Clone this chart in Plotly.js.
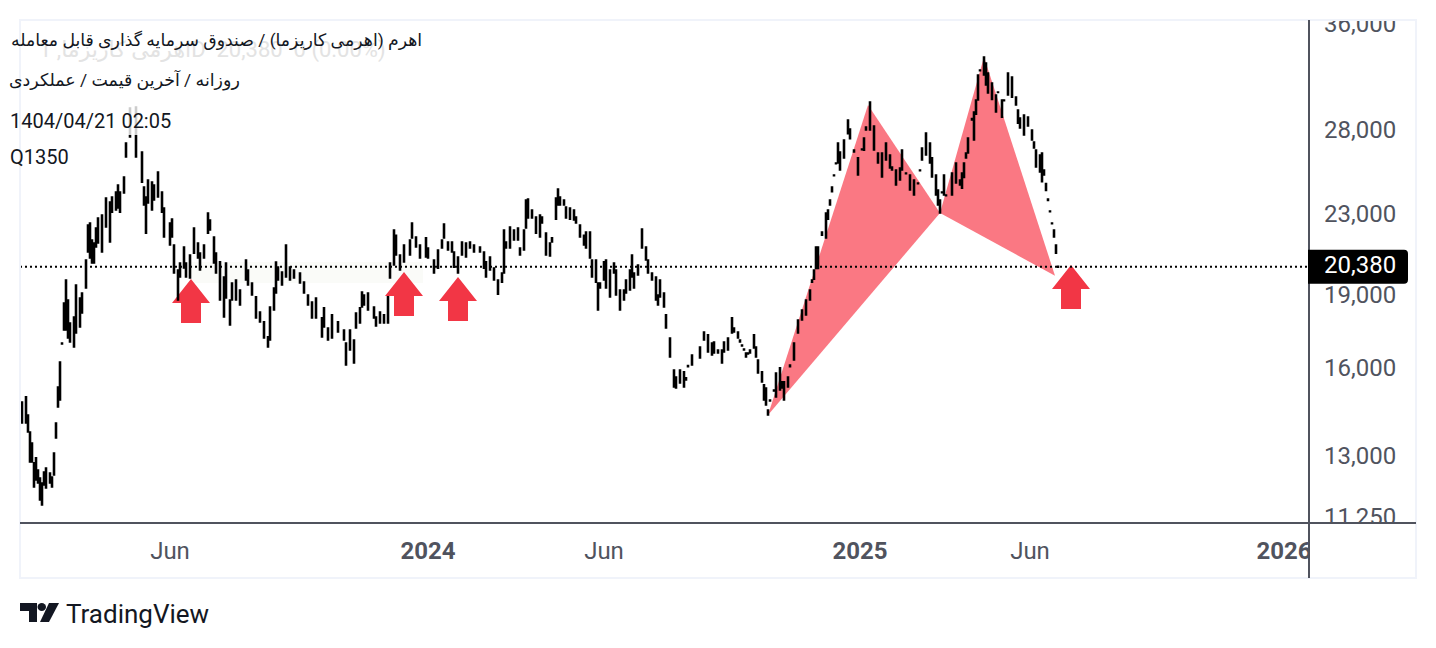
<!DOCTYPE html>
<html>
<head>
<meta charset="utf-8">
<script src="https://cdn.plot.ly/plotly-3.0.1.min.js"></script>
<style>html,body{margin:0;padding:0;background:#fff}#chart{width:1436px;height:648px}</style>
</head>
<body>
<div id="chart"></div>
<script>
// Trading session number counted from the left edge of the chart
const session = [
1,3,4,5,6,7,8,9,10,11,12,13,15,16,17,18,19,20,21,22,23,24,25,27,28,30,31,33,34,35,36,37,38,39,41,43,45,46,48,49,50,52,53,55,58,
61,62,63,64,66,67,69,71,72,75,76,77,79,80,82,83,85,87,89,90,92,94,95,97,98,100,102,103,105,106,108,110,113,114,116,118,120,122,124,125,127,128,129,131,133,135,137,140,142,144,146,148,151,152,154,156,159,162,163,165,167,168,170,171,172,174,
177,178,180,182,184,185,187,188,190,192,195,196,198,200,203,204,207,209,211,212,214,216,217,219,221,223,225,227,230,232,233,235,237,239,241,242,243,245,247,249,250,252,253,254,256,258,260,261,263,265,266,268,269,270,272,273,275,277,278,280,282,283,285,286,288,289,290,292,293,295,297,298,300,302,303,305,306,307,309,311,313,314,316,318,319,320,322,323,325,327,328,330,332,333,334,
336,340,342,344,346,347,349,351,352,354,356,357,359,360,361,362,363,364,365,367,368,369,371,372,373,374,375,377,378,380,381,382,384,385,387,389,391,393,395,396,397,398,399,401,403,404,405,406,407,408,409,410,412,414,415,417,419,421,422,423,425,427,429,431,433,435,436,438,440,441,443,445,447,449,450,451,453,455,456,458,459,460,461,462,463,466,468,470,471,472,473,474,476,477,478,479,480,482,483,484,486,488,489,491,492,494,496,498,499,500,502,504,506,507,508,510,511,512,513,514,515,516,517,518,519
];
const high = [
14810,14990,14365,13800,13440,12830,12980,12615,12380,12235,12555,12675,12525,12410,13130,14095,15345,16275,17020,18705,19750,18840,17845,18100,19515,18930,19150,20700,22480,22590,21700,21550,22325,22860,23020,23960,23740,24020,24300,24710,24300,25170,27280,29630,29700,
26710,24590,24020,25000,24880,24710,25480,24300,23400,22590,22800,21450,20220,20560,21350,20560,20950,22325,21550,21040,21450,23130,22750,21860,21040,20610,19890,20560,18840,19610,19750,19290,20700,20220,19610,18980,18310,17890,17270,18530,19380,20600,20360,20120,21450,20360,20220,20080,19650,19060,18750,18930,18060,18490,17635,18190,17890,17550,17020,17550,17140,18270,18490,19200,19060,19150,
18530,18100,18310,18190,18980,20560,22220,21950,20950,21450,21700,22590,21860,21450,21810,21300,20700,21200,21700,22535,21600,21600,21100,20850,21600,21550,21600,21450,21350,21100,20610,20850,20310,19750,20080,22220,21600,22380,22220,22325,21300,22220,23850,23900,23290,22910,23020,22910,22060,21550,21810,23960,24480,24020,23850,23460,23400,23290,22910,22485,21950,22115,22115,20700,20700,19610,19610,20610,20700,20220,20560,20220,19290,19290,19750,20220,20950,20080,20460,22270,21350,20700,20080,19890,19060,19750,19150,18190,17225,15970,15710,15970,15900,15680,16140,
16540,16860,17470,17350,17020,17060,16740,16740,17060,17225,18060,17630,17470,17140,16940,16780,16625,16625,16740,17350,16860,16350,15900,15420,15310,14535,14880,15235,15860,16050,15530,15530,15710,16160,17020,17970,18400,18840,19290,19750,20220,21350,21350,22115,23130,23295,23850,24590,25300,26030,27280,26710,27480,28800,28200,26830,26340,26900,27600,28330,30050,28400,26650,26650,27280,26520,25780,25600,25720,26830,25420,25300,25000,24825,25600,26960,27930,27280,26340,25300,24420,23850,24300,25300,24130,25420,26030,25000,25420,26030,26650,27605,28900,29350,30193,32030,32400,33414,32950,32180,31430,30550,30770,30193,30193,32180,31880,30400,29489,28940,29140,29000,28131,27345,26835,26520,26650,25600,24800,23905,23240,22590,22220,21450,20400
];
const low = [
14100,14100,13800,12860,12860,12120,12320,12235,11755,11615,12180,12090,12235,12120,12470,13605,14640,14880,16980,17550,17550,17225,17060,16860,17430,17675,18270,19380,21095,20800,20560,20560,21350,21550,21095,22380,21600,23180,23295,23405,23180,24245,26400,27670,26400,
24880,23570,22060,23680,23295,23850,24020,23180,21860,21450,21860,20080,18840,19890,20315,19890,19840,21040,20800,20220,20800,22060,22220,20560,20080,18840,18100,18930,17760,18840,18840,18620,19750,19520,19060,18060,17890,17225,16860,17140,18400,19150,19750,19520,19890,19750,19840,19610,19150,18620,18060,18060,17270,17680,17140,17225,17470,17140,16160,16740,16240,17635,17845,18530,18620,18400,
18060,17720,17845,17845,17845,19840,20460,20950,20220,20610,20950,21810,21350,20800,20850,20800,20080,20310,21300,21810,21200,21100,20360,20080,20950,20850,21300,21100,21100,20310,19890,20220,19750,19100,19650,20080,21300,21300,21700,21700,20950,21200,22325,22860,22860,22060,21860,22590,20950,20900,21600,22800,23570,23570,23570,22860,22800,22750,22590,21860,21450,21300,20800,19890,19650,18400,19380,19750,19380,18980,20080,19060,18400,18840,19150,19290,19890,19380,19980,21300,20700,20080,19750,18840,18620,18980,18530,17635,16470,15345,15310,15490,15345,15600,16100,
16160,16430,17140,16665,16545,16625,16625,16240,16665,16740,17430,17470,17225,17060,16900,16740,16470,16590,16625,16820,16470,15860,15530,14880,14705,14365,14850,15200,14990,15235,15310,14880,15345,16100,16350,17430,17970,18190,18840,19650,19790,20300,20300,21950,21810,22800,23570,24320,25260,25990,26030,25600,26340,27880,27560,26710,25300,26860,26830,28131,28131,26835,26030,25180,26210,25720,25600,24710,25000,25600,25380,24420,24130,24780,25560,26210,26520,26030,25180,24130,23570,23130,24260,24130,24090,24130,24825,24710,24530,25150,26340,26650,28800,27480,29200,30193,32360,32030,31290,30700,30230,29350,30730,29000,30150,30550,30400,29840,28590,28270,27800,28400,27475,26960,25780,25480,24900,25300,24400,23820,23200,22550,21860,21040,20360
];
const tickPrices = [36000, 28000, 23000, 19000, 16000, 13000, 11250];
const tickPriceText = ['36,000', '28,000', '23,000', '19,000', '16,000', '13,000', '11,250'];
const timeTicks = [75, 204, 292, 420, 505, 632];
const timeTickText = ['Jun', '<b>2024</b>', 'Jun', '<b>2025</b>', 'Jun', '<b>2026</b>'];
const lastPrice = 20380;
const lastPriceText = '20,380';
// Harmonic pattern legs: X-A-B and B-C-D
const legXABSession = [374, 424, 460];
const legXABPrice = [14365, 29850, 23130];
const legBCDSession = [460, 482, 517.5];
const legBCDPrice = [23130, 33414, 19950];
// Buy arrows: tip location
const arrowSession = [85.5, 192, 219, 525.5];
const arrowPrice = [19795, 20120, 19890, 20460];
const titleLines = ['اهرم (اهرمی کاریزما) / صندوق سرمایه گذاری قابل معامله', 'روزانه / آخرین قیمت / عملکردی', '1404/04/21 02:05', 'Q1350'];
const ghostLegend = 'اهرمی کاریزما, 1D  20,380  0 (0.00%)';

const INK = '#000000', AXIS = '#50535E', RED = '#F23645', PATTERN = '#FA7883', FRAME = '#F0F3FA', TEXT = '#131722';
const W = 1436, H = 648, L = 20, R = 1309, T = 20, B = 523;
const px = v => (v - L) / (R - L);
const py = v => (B - v) / (B - T);
const rect = (x0, y0, x1, y1, fill, layer) => ({type: 'rect', xref: 'paper', yref: 'paper', x0: px(x0), x1: px(x1), y0: py(y1), y1: py(y0), fillcolor: fill, line: {width: 0}, layer: layer || 'above'});
const seg = (x0, y0, x1, y1, color, width) => ({type: 'line', xref: 'paper', yref: 'paper', x0: px(x0), x1: px(x1), y0: py(y0), y1: py(y1), line: {color, width}, layer: 'above'});
const poly = (pts, fill) => ({type: 'path', xref: 'paper', yref: 'paper', path: 'M' + pts.map(p => px(p[0]) + ',' + py(p[1])).join(' L') + ' Z', fillcolor: fill, line: {width: 0}, layer: 'above'});
const leg = (xs, ys) => ({type: 'path', xref: 'x', yref: 'y', layer: 'below', path: 'M' + xs.map((s, i) => s + ',' + ys[i]).join(' L') + ' Z', fillcolor: PATTERN, line: {width: 0}});

const traces = [
  {type: 'candlestick', x: session, open: low, high: high, low: low, close: high, whiskerwidth: 0,
   increasing: {line: {color: INK, width: 1.6}, fillcolor: INK}, decreasing: {line: {color: INK, width: 1.6}, fillcolor: INK}, showlegend: false},
  {type: 'scatter', mode: 'lines', x: [0, 644.5], y: [lastPrice, lastPrice], line: {color: INK, width: 2, dash: '2px,3px'}, hoverinfo: 'skip', showlegend: false}
];

const arrowPath = 'M0,0 L19,-24 L10,-24 L10,-44 L-10,-44 L-10,-24 L-19,-24 Z';
const arrows = arrowSession.map((s, i) => ({type: 'path', layer: 'below', xref: 'x', yref: 'y', xsizemode: 'pixel', ysizemode: 'pixel', xanchor: s, yanchor: arrowPrice[i], path: arrowPath, fillcolor: RED, line: {width: 0}}));

const lbl = (text, x, y, color, size, anchor) => ({text, xref: 'paper', yref: 'paper', x: px(x), y: py(y), xanchor: anchor || 'left', yanchor: 'middle', showarrow: false, align: 'left', font: {family: 'Roboto, "Noto Sans", "DejaVu Sans", sans-serif', size, color}});

const layout = {
  width: W, height: H, autosize: false,
  margin: {l: L, r: W - R, t: T, b: H - B, pad: 0},
  paper_bgcolor: '#ffffff', plot_bgcolor: '#ffffff', showlegend: false,
  xaxis: {type: 'linear', range: [0, 644.5], rangeslider: {visible: false}, showgrid: false, zeroline: false, showline: false,
    tickmode: 'array', tickvals: timeTicks, ticktext: timeTickText, ticks: '', ticklabelstandoff: 11,
    tickfont: {family: 'Roboto, sans-serif', size: 24, color: AXIS}},
  yaxis: {type: 'log', side: 'right', range: [4.0466, 4.5619], showgrid: false, zeroline: false, showline: false, autorange: false,
    tickmode: 'array', tickvals: tickPrices, ticktext: tickPriceText, ticks: '', ticklabelstandoff: 14, ticklabelshift: -2,
    tickfont: {family: 'Roboto, sans-serif', size: 24, color: AXIS}},
  shapes: [
    rect(190, 262, 423, 283, '#FAFBF8', 'below'),
    leg(legXABSession, legXABPrice),
    leg(legBCDSession, legBCDPrice),
    ...arrows,
    rect(10, 21, 432, 135, 'rgba(255,255,255,0.8)'),
    rect(1310, 0, 1436, 19, '#ffffff'),
    rect(1310, 524, 1415, 577, '#ffffff'),
    {type: 'rect', xref: 'paper', yref: 'paper', x0: px(20), x1: px(1416), y0: py(578), y1: py(20), line: {color: FRAME, width: 2}, fillcolor: 'rgba(0,0,0,0)', layer: 'above'},
    seg(1309, 20, 1309, 578, AXIS, 2),
    seg(20, 523, 1416, 523, AXIS, 2),
    {type: 'path', layer: 'above', xref: 'paper', yref: 'y', xsizemode: 'pixel', ysizemode: 'pixel', xanchor: px(1308), yanchor: lastPrice,
     path: 'M0,17 L96,17 Q100,17 100,13 L100,-13 Q100,-17 96,-17 L0,-17 Z', fillcolor: '#000000', line: {width: 0}},
    poly([[20, 603], [37, 603], [37, 622], [29, 622], [29, 611], [20, 611]], TEXT),
    {type: 'circle', xref: 'paper', yref: 'paper', x0: px(37.5), x1: px(46), y0: py(611), y1: py(603), fillcolor: TEXT, line: {width: 0}, layer: 'above'},
    poly([[49, 603], [59, 603], [49, 622], [40, 622]], TEXT)
  ],
  annotations: [
    lbl(ghostLegend, 37, 50, '#E3E3E3', 22),
    lbl(titleLines[0], 424, 40, TEXT, 17.3, 'right'),
    lbl(titleLines[1], 242, 80, TEXT, 17.4, 'right'),
    lbl(titleLines[2], 8, 121, TEXT, 20),
    lbl(titleLines[3], 8, 157, TEXT, 20),
    lbl(lastPriceText, 1322, 265, '#ffffff', 24),
    lbl('TradingView', 64, 614, TEXT, 26)
  ]
};
Plotly.newPlot('chart', traces, layout, {staticPlot: true, displayModeBar: false});
</script>
</body>
</html>
